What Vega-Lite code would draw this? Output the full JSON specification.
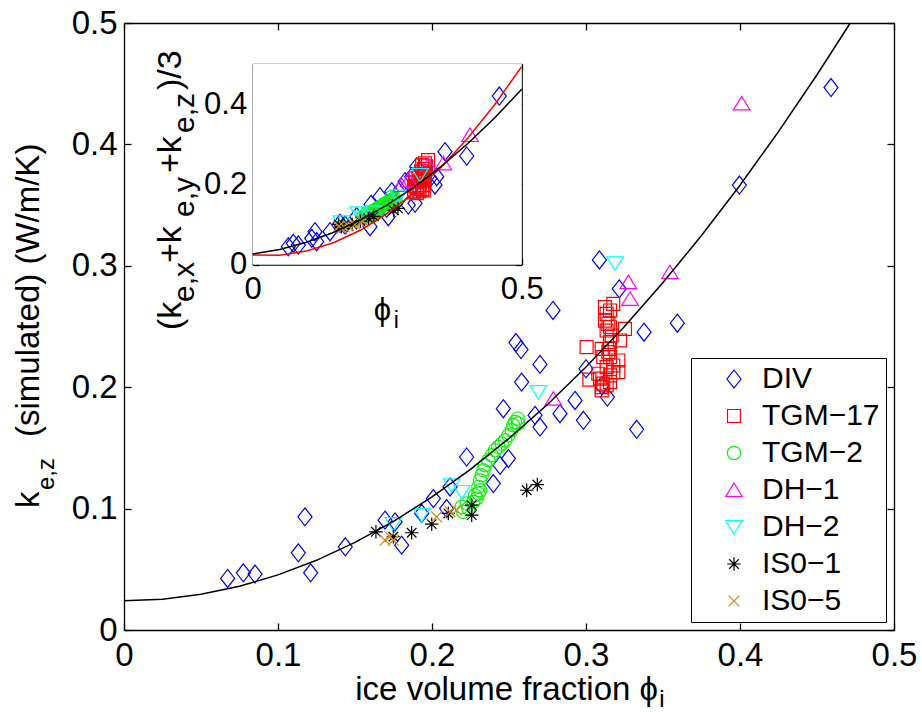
{
  "$schema": "https://vega.github.io/schema/vega-lite/v6.json",
  "width": 770,
  "height": 607,
  "autosize": {"type": "none"},
  "padding": {"left": 124, "top": 23, "right": 28, "bottom": 82},
  "config": {
    "font": "Liberation Sans",
    "view": {"stroke": null},
    "axis": {"grid": false, "domainColor": "black", "tickColor": "black", "labelColor": "black", "domainWidth": 1.3, "tickWidth": 1.3, "labelFlush": false, "labelOverlap": false, "labelBound": false, "zindex": 1},
    "legend": {"orient": "bottom-right", "offset": 8, "padding": 6, "strokeColor": "black", "fillColor": "white", "labelFontSize": 30, "labelColor": "black", "symbolSize": 324, "symbolStrokeWidth": 1.2, "rowPadding": 7, "symbolOffset": 22, "labelOffset": 13}
  },
  "datasets": {
    "main": [
      {"s": "DIV", "x": 0.0673, "y": 0.0425}, {"s": "DIV", "x": 0.0775, "y": 0.0471}, {"s": "DIV", "x": 0.0851, "y": 0.0461},
      {"s": "DIV", "x": 0.1132, "y": 0.0636}, {"s": "DIV", "x": 0.1175, "y": 0.0932}, {"s": "DIV", "x": 0.1212, "y": 0.0471},
      {"s": "DIV", "x": 0.1437, "y": 0.0685}, {"s": "DIV", "x": 0.1695, "y": 0.0905}, {"s": "DIV", "x": 0.1760, "y": 0.0890},
      {"s": "DIV", "x": 0.1803, "y": 0.0699}, {"s": "DIV", "x": 0.1933, "y": 0.0960}, {"s": "DIV", "x": 0.2009, "y": 0.1083},
      {"s": "DIV", "x": 0.2095, "y": 0.1000}, {"s": "DIV", "x": 0.2117, "y": 0.1178}, {"s": "DIV", "x": 0.2225, "y": 0.1425},
      {"s": "DIV", "x": 0.2398, "y": 0.1206}, {"s": "DIV", "x": 0.2442, "y": 0.1357}, {"s": "DIV", "x": 0.2496, "y": 0.1412},
      {"s": "DIV", "x": 0.2463, "y": 0.1823}, {"s": "DIV", "x": 0.2669, "y": 0.1768}, {"s": "DIV", "x": 0.2701, "y": 0.1672},
      {"s": "DIV", "x": 0.2831, "y": 0.1782}, {"s": "DIV", "x": 0.2929, "y": 0.1891}, {"s": "DIV", "x": 0.2983, "y": 0.1727},
      {"s": "DIV", "x": 0.2582, "y": 0.2042}, {"s": "DIV", "x": 0.2545, "y": 0.2368}, {"s": "DIV", "x": 0.2578, "y": 0.2310},
      {"s": "DIV", "x": 0.2786, "y": 0.2632}, {"s": "DIV", "x": 0.2701, "y": 0.2188}, {"s": "DIV", "x": 0.3000, "y": 0.2152},
      {"s": "DIV", "x": 0.3087, "y": 0.3048}, {"s": "DIV", "x": 0.3216, "y": 0.2810}, {"s": "DIV", "x": 0.3377, "y": 0.2453},
      {"s": "DIV", "x": 0.3593, "y": 0.2527}, {"s": "DIV", "x": 0.3139, "y": 0.1919}, {"s": "DIV", "x": 0.3329, "y": 0.1653},
      {"s": "DIV", "x": 0.3102, "y": 0.2015}, {"s": "DIV", "x": 0.3996, "y": 0.3665}, {"s": "DIV", "x": 0.4591, "y": 0.4468},
      {"s": "TGM−17", "x": 0.3177, "y": 0.2687}, {"s": "TGM−17", "x": 0.3156, "y": 0.2632}, {"s": "TGM−17", "x": 0.3134, "y": 0.2604},
      {"s": "TGM−17", "x": 0.3123, "y": 0.2549}, {"s": "TGM−17", "x": 0.3145, "y": 0.2522}, {"s": "TGM−17", "x": 0.3134, "y": 0.2467},
      {"s": "TGM−17", "x": 0.3167, "y": 0.2426}, {"s": "TGM−17", "x": 0.3253, "y": 0.2481}, {"s": "TGM−17", "x": 0.3221, "y": 0.2385},
      {"s": "TGM−17", "x": 0.3156, "y": 0.2371}, {"s": "TGM−17", "x": 0.3151, "y": 0.2316}, {"s": "TGM−17", "x": 0.3004, "y": 0.2330},
      {"s": "TGM−17", "x": 0.3102, "y": 0.2316}, {"s": "TGM−17", "x": 0.3112, "y": 0.2248}, {"s": "TGM−17", "x": 0.3156, "y": 0.2248},
      {"s": "TGM−17", "x": 0.3210, "y": 0.2220}, {"s": "TGM−17", "x": 0.3177, "y": 0.2179}, {"s": "TGM−17", "x": 0.3134, "y": 0.2165},
      {"s": "TGM−17", "x": 0.3177, "y": 0.2124}, {"s": "TGM−17", "x": 0.3210, "y": 0.2124}, {"s": "TGM−17", "x": 0.3080, "y": 0.2111},
      {"s": "TGM−17", "x": 0.3022, "y": 0.2062}, {"s": "TGM−17", "x": 0.3091, "y": 0.2070}, {"s": "TGM−17", "x": 0.3112, "y": 0.2029},
      {"s": "TGM−17", "x": 0.3156, "y": 0.2042}, {"s": "TGM−17", "x": 0.3102, "y": 0.2001}, {"s": "TGM−17", "x": 0.3102, "y": 0.1974},
      {"s": "TGM−17", "x": 0.3134, "y": 0.2015}, {"s": "TGM−17", "x": 0.3156, "y": 0.2097}, {"s": "TGM−17", "x": 0.3145, "y": 0.2289},
      {"s": "TGM−17", "x": 0.3156, "y": 0.2494}, {"s": "TGM−17", "x": 0.3123, "y": 0.2659},
      {"s": "TGM−2", "x": 0.2556, "y": 0.1741}, {"s": "TGM−2", "x": 0.2560, "y": 0.1700}, {"s": "TGM−2", "x": 0.2539, "y": 0.1713},
      {"s": "TGM−2", "x": 0.2528, "y": 0.1686}, {"s": "TGM−2", "x": 0.2517, "y": 0.1645}, {"s": "TGM−2", "x": 0.2496, "y": 0.1604},
      {"s": "TGM−2", "x": 0.2474, "y": 0.1562}, {"s": "TGM−2", "x": 0.2453, "y": 0.1535}, {"s": "TGM−2", "x": 0.2431, "y": 0.1508},
      {"s": "TGM−2", "x": 0.2409, "y": 0.1480}, {"s": "TGM−2", "x": 0.2388, "y": 0.1439}, {"s": "TGM−2", "x": 0.2366, "y": 0.1398},
      {"s": "TGM−2", "x": 0.2344, "y": 0.1357}, {"s": "TGM−2", "x": 0.2333, "y": 0.1316}, {"s": "TGM−2", "x": 0.2323, "y": 0.1275},
      {"s": "TGM−2", "x": 0.2312, "y": 0.1234}, {"s": "TGM−2", "x": 0.2301, "y": 0.1178}, {"s": "TGM−2", "x": 0.2301, "y": 0.1124},
      {"s": "TGM−2", "x": 0.2290, "y": 0.1083}, {"s": "TGM−2", "x": 0.2268, "y": 0.1055}, {"s": "TGM−2", "x": 0.2225, "y": 0.1042},
      {"s": "TGM−2", "x": 0.2193, "y": 0.1014}, {"s": "TGM−2", "x": 0.2203, "y": 0.0973}, {"s": "TGM−2", "x": 0.2236, "y": 0.1001},
      {"s": "TGM−2", "x": 0.2312, "y": 0.1151}, {"s": "TGM−2", "x": 0.2279, "y": 0.1110},
      {"s": "DH−1", "x": 0.2788, "y": 0.1905}, {"s": "DH−1", "x": 0.3545, "y": 0.2947}, {"s": "DH−1", "x": 0.3275, "y": 0.2865},
      {"s": "DH−1", "x": 0.3286, "y": 0.2728}, {"s": "DH−1", "x": 0.4011, "y": 0.4337},
      {"s": "DH−2", "x": 0.1749, "y": 0.0872}, {"s": "DH−2", "x": 0.1933, "y": 0.0946}, {"s": "DH−2", "x": 0.2128, "y": 0.1192},
      {"s": "DH−2", "x": 0.2193, "y": 0.1137}, {"s": "DH−2", "x": 0.2690, "y": 0.1960}, {"s": "DH−2", "x": 0.3188, "y": 0.3020},
      {"s": "IS0−1", "x": 0.1636, "y": 0.0809}, {"s": "IS0−1", "x": 0.1749, "y": 0.0768}, {"s": "IS0−1", "x": 0.1868, "y": 0.0801},
      {"s": "IS0−1", "x": 0.1998, "y": 0.0872}, {"s": "IS0−1", "x": 0.2106, "y": 0.0960}, {"s": "IS0−1", "x": 0.2258, "y": 0.1028},
      {"s": "IS0−1", "x": 0.2258, "y": 0.0946}, {"s": "IS0−1", "x": 0.2615, "y": 0.1151}, {"s": "IS0−1", "x": 0.2684, "y": 0.1198},
      {"s": "IS0−5", "x": 0.1695, "y": 0.0740}, {"s": "IS0−5", "x": 0.1749, "y": 0.0740}, {"s": "IS0−5", "x": 0.1727, "y": 0.0768},
      {"s": "IS0−5", "x": 0.2030, "y": 0.0932}, {"s": "IS0−5", "x": 0.2117, "y": 0.0973}, {"s": "IS0−5", "x": 0.2160, "y": 0.0987}
    ],
    "inset": [
      {"s": "DIV", "x": 0.0662, "y": 0.0446}, {"s": "DIV", "x": 0.0755, "y": 0.0530}, {"s": "DIV", "x": 0.0848, "y": 0.0488},
      {"s": "DIV", "x": 0.1097, "y": 0.0655}, {"s": "DIV", "x": 0.1158, "y": 0.0819}, {"s": "DIV", "x": 0.1190, "y": 0.0570},
      {"s": "DIV", "x": 0.1437, "y": 0.0819}, {"s": "DIV", "x": 0.1623, "y": 0.1029}, {"s": "DIV", "x": 0.1716, "y": 0.0986},
      {"s": "DIV", "x": 0.1933, "y": 0.1193}, {"s": "DIV", "x": 0.2180, "y": 0.0944}, {"s": "DIV", "x": 0.2366, "y": 0.1691},
      {"s": "DIV", "x": 0.2520, "y": 0.1193}, {"s": "DIV", "x": 0.2584, "y": 0.1816}, {"s": "DIV", "x": 0.2738, "y": 0.1858},
      {"s": "DIV", "x": 0.2831, "y": 0.2065}, {"s": "DIV", "x": 0.2892, "y": 0.1484}, {"s": "DIV", "x": 0.3017, "y": 0.1527},
      {"s": "DIV", "x": 0.2955, "y": 0.2189}, {"s": "DIV", "x": 0.3048, "y": 0.2438}, {"s": "DIV", "x": 0.3296, "y": 0.2149},
      {"s": "DIV", "x": 0.3388, "y": 0.1983}, {"s": "DIV", "x": 0.3420, "y": 0.2189}, {"s": "DIV", "x": 0.3574, "y": 0.2812},
      {"s": "DIV", "x": 0.3978, "y": 0.2705}, {"s": "DIV", "x": 0.4584, "y": 0.4199}, {"s": "DIV", "x": 0.2490, "y": 0.1402},
      {"s": "DIV", "x": 0.2200, "y": 0.1500}, {"s": "DIV", "x": 0.2300, "y": 0.1350},
      {"s": "TGM−17", "x": 0.300, "y": 0.180}, {"s": "TGM−17", "x": 0.305, "y": 0.178}, {"s": "TGM−17", "x": 0.310, "y": 0.183},
      {"s": "TGM−17", "x": 0.315, "y": 0.188}, {"s": "TGM−17", "x": 0.305, "y": 0.193}, {"s": "TGM−17", "x": 0.310, "y": 0.198},
      {"s": "TGM−17", "x": 0.318, "y": 0.198}, {"s": "TGM−17", "x": 0.303, "y": 0.205}, {"s": "TGM−17", "x": 0.312, "y": 0.208},
      {"s": "TGM−17", "x": 0.320, "y": 0.210}, {"s": "TGM−17", "x": 0.308, "y": 0.214}, {"s": "TGM−17", "x": 0.315, "y": 0.219},
      {"s": "TGM−17", "x": 0.310, "y": 0.225}, {"s": "TGM−17", "x": 0.320, "y": 0.225}, {"s": "TGM−17", "x": 0.313, "y": 0.232},
      {"s": "TGM−17", "x": 0.318, "y": 0.238}, {"s": "TGM−17", "x": 0.322, "y": 0.245}, {"s": "TGM−17", "x": 0.315, "y": 0.248},
      {"s": "TGM−17", "x": 0.326, "y": 0.2605}, {"s": "TGM−17", "x": 0.3203, "y": 0.2523}, {"s": "TGM−17", "x": 0.300, "y": 0.195},
      {"s": "TGM−17", "x": 0.302, "y": 0.215}, {"s": "TGM−17", "x": 0.318, "y": 0.185}, {"s": "TGM−17", "x": 0.308, "y": 0.190},
      {"s": "TGM−2", "x": 0.205, "y": 0.118}, {"s": "TGM−2", "x": 0.210, "y": 0.120}, {"s": "TGM−2", "x": 0.215, "y": 0.124},
      {"s": "TGM−2", "x": 0.212, "y": 0.128}, {"s": "TGM−2", "x": 0.218, "y": 0.130}, {"s": "TGM−2", "x": 0.222, "y": 0.133},
      {"s": "TGM−2", "x": 0.225, "y": 0.128}, {"s": "TGM−2", "x": 0.228, "y": 0.136}, {"s": "TGM−2", "x": 0.232, "y": 0.140},
      {"s": "TGM−2", "x": 0.236, "y": 0.143}, {"s": "TGM−2", "x": 0.240, "y": 0.146}, {"s": "TGM−2", "x": 0.244, "y": 0.150},
      {"s": "TGM−2", "x": 0.248, "y": 0.153}, {"s": "TGM−2", "x": 0.252, "y": 0.156}, {"s": "TGM−2", "x": 0.256, "y": 0.159},
      {"s": "TGM−2", "x": 0.260, "y": 0.162}, {"s": "TGM−2", "x": 0.264, "y": 0.165}, {"s": "TGM−2", "x": 0.262, "y": 0.155},
      {"s": "TGM−2", "x": 0.255, "y": 0.150}, {"s": "TGM−2", "x": 0.248, "y": 0.145}, {"s": "TGM−2", "x": 0.240, "y": 0.138},
      {"s": "TGM−2", "x": 0.232, "y": 0.132}, {"s": "TGM−2", "x": 0.226, "y": 0.124}, {"s": "TGM−2", "x": 0.218, "y": 0.120},
      {"s": "TGM−2", "x": 0.258, "y": 0.168}, {"s": "TGM−2", "x": 0.266, "y": 0.158},
      {"s": "DH−1", "x": 0.2769, "y": 0.1983}, {"s": "DH−1", "x": 0.3264, "y": 0.2480}, {"s": "DH−1", "x": 0.3543, "y": 0.2523},
      {"s": "DH−1", "x": 0.4039, "y": 0.3228}, {"s": "DH−1", "x": 0.2900, "y": 0.2100},
      {"s": "DH−2", "x": 0.3110, "y": 0.2232}, {"s": "DH−2", "x": 0.1963, "y": 0.1278}, {"s": "DH−2", "x": 0.2050, "y": 0.1180},
      {"s": "DH−2", "x": 0.2250, "y": 0.1300}, {"s": "DH−2", "x": 0.1650, "y": 0.1050}, {"s": "DH−2", "x": 0.2700, "y": 0.1700},
      {"s": "IS0−1", "x": 0.1600, "y": 0.1000}, {"s": "IS0−1", "x": 0.1700, "y": 0.0980}, {"s": "IS0−1", "x": 0.1850, "y": 0.1000},
      {"s": "IS0−1", "x": 0.2000, "y": 0.1080}, {"s": "IS0−1", "x": 0.2150, "y": 0.1150}, {"s": "IS0−1", "x": 0.2250, "y": 0.1200},
      {"s": "IS0−1", "x": 0.2620, "y": 0.1350}, {"s": "IS0−1", "x": 0.2700, "y": 0.1400}, {"s": "IS0−1", "x": 0.1650, "y": 0.0950},
      {"s": "IS0−5", "x": 0.1600, "y": 0.0950}, {"s": "IS0−5", "x": 0.1700, "y": 0.0940}, {"s": "IS0−5", "x": 0.1650, "y": 0.0900},
      {"s": "IS0−5", "x": 0.1780, "y": 0.0970}, {"s": "IS0−5", "x": 0.1900, "y": 0.1000}, {"s": "IS0−5", "x": 0.2000, "y": 0.1050},
      {"s": "IS0−5", "x": 0.2050, "y": 0.1080}
    ],
    "curveMain": [
      {"x": 0, "y": 0.024}, {"x": 0.025, "y": 0.0253}, {"x": 0.05, "y": 0.0294}, {"x": 0.075, "y": 0.036},
      {"x": 0.1, "y": 0.0454}, {"x": 0.125, "y": 0.0574}, {"x": 0.15, "y": 0.0722}, {"x": 0.175, "y": 0.0895},
      {"x": 0.2, "y": 0.1096}, {"x": 0.225, "y": 0.1323}, {"x": 0.25, "y": 0.1578}, {"x": 0.275, "y": 0.1858},
      {"x": 0.3, "y": 0.2166}, {"x": 0.325, "y": 0.25}, {"x": 0.35, "y": 0.2862}, {"x": 0.375, "y": 0.3249},
      {"x": 0.4, "y": 0.3664}, {"x": 0.425, "y": 0.4105}, {"x": 0.45, "y": 0.4574}, {"x": 0.4715, "y": 0.4998}
    ],
    "curveInset": [
      {"m": "fit", "x": 0, "y": 0.0264}, {"m": "fit", "x": 0.05, "y": 0.0376}, {"m": "fit", "x": 0.1, "y": 0.0555},
      {"m": "fit", "x": 0.15, "y": 0.0799}, {"m": "fit", "x": 0.2, "y": 0.111}, {"m": "fit", "x": 0.25, "y": 0.1487},
      {"m": "fit", "x": 0.3, "y": 0.193}, {"m": "fit", "x": 0.35, "y": 0.244}, {"m": "fit", "x": 0.4, "y": 0.3016},
      {"m": "fit", "x": 0.45, "y": 0.3658}, {"m": "fit", "x": 0.5, "y": 0.4366},
      {"m": "cal", "x": 0, "y": 0.024}, {"m": "cal", "x": 0.05, "y": 0.0236}, {"m": "cal", "x": 0.1, "y": 0.0337},
      {"m": "cal", "x": 0.15, "y": 0.0544}, {"m": "cal", "x": 0.2, "y": 0.0855}, {"m": "cal", "x": 0.25, "y": 0.1272},
      {"m": "cal", "x": 0.3, "y": 0.1794}, {"m": "cal", "x": 0.35, "y": 0.242}, {"m": "cal", "x": 0.4, "y": 0.3152},
      {"m": "cal", "x": 0.45, "y": 0.3989}, {"m": "cal", "x": 0.5, "y": 0.4932}
    ]
  },
  "resolve": {"scale": {"x": "independent", "y": "independent"}},
  "layer": [
    {
      "layer": [
        {
          "data": {"name": "main"},
          "mark": {"type": "point", "filled": false, "strokeWidth": 1.2, "opacity": 1, "size": 324},
          "encoding": {
            "x": {"field": "x", "type": "quantitative", "scale": {"domain": [0, 0.5], "nice": false, "zero": false},
              "axis": {"orient": "bottom", "values": [0, 0.1, 0.2, 0.3, 0.4, 0.5], "format": ".1~f", "labelFontSize": 33, "tickSize": -7, "labelPadding": 16, "title": null}},
            "y": {"field": "y", "type": "quantitative", "scale": {"domain": [0, 0.5], "nice": false, "zero": false},
              "axis": {"orient": "left", "values": [0, 0.1, 0.2, 0.3, 0.4, 0.5], "format": ".1~f", "labelFontSize": 33, "tickSize": -7, "labelPadding": 14, "title": null}},
            "color": {"field": "s", "type": "nominal", "legend": {"title": null},
              "scale": {"domain": ["DIV", "TGM−17", "TGM−2", "DH−1", "DH−2", "IS0−1", "IS0−5"],
                "range": ["#0000FF", "#FF0000", "#11EE11", "#FF00FF", "#00FFFF", "#000000", "#CC8A1A"]}},
            "shape": {"field": "s", "type": "nominal", "legend": {"title": null},
              "scale": {"domain": ["DIV", "TGM−17", "TGM−2", "DH−1", "DH−2", "IS0−1", "IS0−5"],
                "range": ["M0,-1L0.78,0L0,1L-0.78,0Z", "M-0.72,-0.72L0.72,-0.72L0.72,0.72L-0.72,0.72Z", "M0.74,0A0.74,0.74,0,1,1,-0.74,0A0.74,0.74,0,1,1,0.74,0Z", "M0,-0.78L0.92,0.72L-0.92,0.72Z", "M0,0.78L0.92,-0.72L-0.92,-0.72Z", "M-0.75,0L0.75,0M0,-0.75L0,0.75M-0.53,-0.53L0.53,0.53M-0.53,0.53L0.53,-0.53", "M-0.6,-0.6L0.6,0.6M-0.6,0.6L0.6,-0.6"]}}
          }
        },
        {
          "data": {"name": "curveMain"},
          "mark": {"type": "line", "color": "black", "strokeWidth": 1.5},
          "encoding": {
            "x": {"field": "x", "type": "quantitative", "scale": {"domain": [0, 0.5], "nice": false, "zero": false}},
            "y": {"field": "y", "type": "quantitative", "scale": {"domain": [0, 0.5], "nice": false, "zero": false}}
          }
        },
        {
          "data": {"values": [{}]},
          "mark": {"type": "text", "text": "ice volume fraction ϕ", "align": "right", "baseline": "alphabetic", "fontSize": 33, "color": "black"},
          "encoding": {"x": {"datum": 0.3468, "type": "quantitative"}, "y": {"datum": -0.0577, "type": "quantitative"}}
        },
        {
          "data": {"values": [{}]},
          "mark": {"type": "text", "text": "i", "align": "left", "baseline": "alphabetic", "fontSize": 24, "color": "black"},
          "encoding": {"x": {"datum": 0.3476, "type": "quantitative"}, "y": {"datum": -0.0634, "type": "quantitative"}}
        },
        {
          "data": {"values": [{}]},
          "mark": {"type": "text", "text": "k", "angle": 270, "align": "left", "baseline": "alphabetic", "fontSize": 33, "color": "black"},
          "encoding": {"x": {"datum": -0.05545, "type": "quantitative"}, "y": {"datum": 0.1005, "type": "quantitative"}}
        },
        {
          "data": {"values": [{}]},
          "mark": {"type": "text", "text": "e,z", "angle": 270, "align": "left", "baseline": "alphabetic", "fontSize": 24, "color": "black"},
          "encoding": {"x": {"datum": -0.04545, "type": "quantitative"}, "y": {"datum": 0.1153, "type": "quantitative"}}
        },
        {
          "data": {"values": [{}]},
          "mark": {"type": "text", "text": "(simulated)  (W/m/K)", "angle": 270, "align": "left", "baseline": "alphabetic", "fontSize": 33, "color": "black"},
          "encoding": {"x": {"datum": -0.05545, "type": "quantitative"}, "y": {"datum": 0.159, "type": "quantitative"}}
        }
      ]
    },
    {
      "data": {"values": [{"x": 0, "y": 0}]},
      "mark": {"type": "point", "opacity": 0},
      "encoding": {
        "x": {"field": "x", "type": "quantitative", "scale": {"domain": [0, 0.5], "nice": false, "zero": false},
          "axis": {"orient": "top", "values": [0, 0.1, 0.2, 0.3, 0.4, 0.5], "labels": false, "tickSize": -7, "title": null}},
        "y": {"field": "y", "type": "quantitative", "scale": {"domain": [0, 0.5], "nice": false, "zero": false},
          "axis": {"orient": "right", "values": [0, 0.1, 0.2, 0.3, 0.4, 0.5], "labels": false, "tickSize": -7, "title": null}}
      }
    },
    {
      "layer": [
        {
          "data": {"values": [{}]},
          "mark": {"type": "rect", "fill": "white", "stroke": null},
          "encoding": {
            "x": {"datum": 0, "type": "quantitative", "scale": {"domain": [0, 0.5], "range": [128.7, 397.7], "nice": false, "zero": false},
              "axis": {"orient": "bottom", "offset": -365.4, "values": [0, 0.5], "format": ".1~f", "labelFontSize": 31, "tickSize": -6, "labelPadding": 16, "title": null}},
            "x2": {"datum": 0.5},
            "y": {"datum": 0, "type": "quantitative", "scale": {"domain": [0, 0.5], "range": [241.6, 40.85], "nice": false, "zero": false},
              "axis": {"orient": "left", "offset": -128.7, "values": [0, 0.2, 0.4], "format": ".1~f", "labelFontSize": 31, "tickSize": -6, "labelPadding": 12, "title": null}},
            "y2": {"datum": 0.5}
          }
        },
        {
          "data": {"name": "inset"},
          "mark": {"type": "point", "filled": false, "strokeWidth": 1.2, "opacity": 1, "size": 324},
          "encoding": {
            "x": {"field": "x", "type": "quantitative"},
            "y": {"field": "y", "type": "quantitative"},
            "color": {"field": "s", "type": "nominal", "legend": {"title": null}},
            "shape": {"field": "s", "type": "nominal", "legend": {"title": null}}
          }
        },
        {
          "data": {"name": "curveInset"},
          "transform": [{"filter": "datum.m == 'cal'"}],
          "mark": {"type": "line", "color": "#FF0000", "strokeWidth": 1.5},
          "encoding": {"x": {"field": "x", "type": "quantitative"}, "y": {"field": "y", "type": "quantitative"}}
        },
        {
          "data": {"name": "curveInset"},
          "transform": [{"filter": "datum.m == 'fit'"}],
          "mark": {"type": "line", "color": "black", "strokeWidth": 1.5},
          "encoding": {"x": {"field": "x", "type": "quantitative"}, "y": {"field": "y", "type": "quantitative"}}
        },
        {
          "data": {"values": [{}]},
          "mark": {"type": "text", "text": "ϕ", "align": "center", "baseline": "alphabetic", "fontSize": 31, "color": "black"},
          "encoding": {"x": {"datum": 0.2413, "type": "quantitative"}, "y": {"datum": -0.138, "type": "quantitative"}}
        },
        {
          "data": {"values": [{}]},
          "mark": {"type": "text", "text": "i", "align": "left", "baseline": "alphabetic", "fontSize": 23, "color": "black"},
          "encoding": {"x": {"datum": 0.262, "type": "quantitative"}, "y": {"datum": -0.158, "type": "quantitative"}}
        },
        {
          "data": {"values": [{"t": "(k", "p": -0.1333, "q": -0.1629, "f": "big"}, {"t": "e,x", "p": -0.1089, "q": -0.0932, "f": "sub"}, {"t": "+k", "p": -0.1333, "q": 0.004, "f": "big"}, {"t": "e,y", "p": -0.1089, "q": 0.1186, "f": "sub"}, {"t": "+k", "p": -0.1333, "q": 0.2281, "f": "big"}, {"t": "e,z", "p": -0.1089, "q": 0.3277, "f": "sub"}, {"t": ")/3", "p": -0.1333, "q": 0.4348, "f": "big"}]},
          "mark": {"type": "text", "angle": 270, "align": "left", "baseline": "alphabetic", "color": "black"},
          "encoding": {
            "x": {"field": "p", "type": "quantitative"},
            "y": {"field": "q", "type": "quantitative"},
            "text": {"field": "t"},
            "size": {"field": "f", "type": "nominal", "scale": {"domain": ["big", "sub"], "range": [34, 30]}, "legend": null}
          }
        }
      ]
    },
    {
      "data": {"values": [{"x": 0, "y": 0}]},
      "mark": {"type": "point", "opacity": 0},
      "encoding": {
        "x": {"field": "x", "type": "quantitative", "scale": {"domain": [0, 0.5], "range": [128.7, 397.7], "nice": false, "zero": false},
          "axis": {"orient": "top", "offset": -40.85, "values": [0, 0.5], "labels": false, "tickSize": -6, "title": null}},
        "y": {"field": "y", "type": "quantitative", "scale": {"domain": [0, 0.5], "range": [241.6, 40.85], "nice": false, "zero": false},
          "axis": {"orient": "right", "offset": -372.3, "values": [0, 0.2, 0.4], "labels": false, "tickSize": -6, "title": null}}
      }
    }
  ]
}
